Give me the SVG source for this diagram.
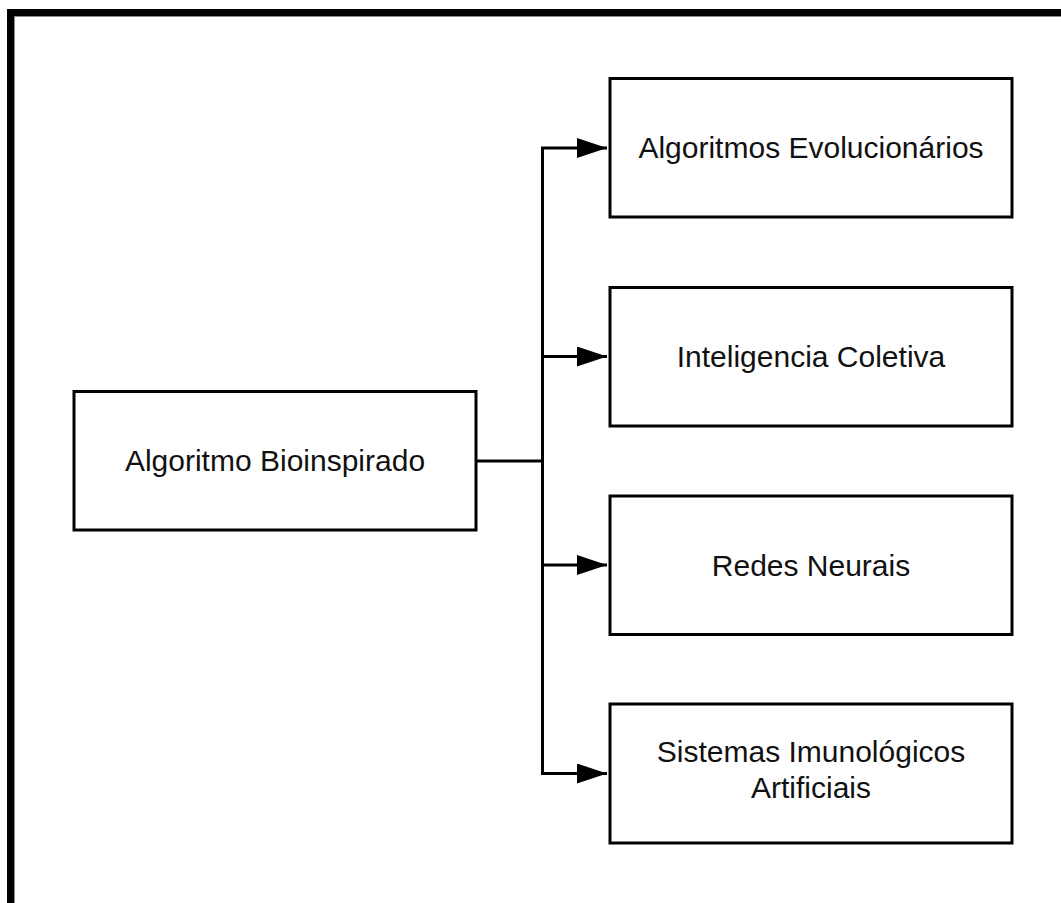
<svg xmlns="http://www.w3.org/2000/svg" width="1061" height="903" viewBox="0 0 1061 903">
<style>
.box{fill:#fff;stroke:#000;stroke-width:3}
.lbl{font-family:"Liberation Sans",Arial,sans-serif;font-size:30px;fill:#111;text-anchor:middle}
.conn{fill:none;stroke:#000;stroke-width:3}
</style>
<defs>
<marker id="arr" markerUnits="userSpaceOnUse" markerWidth="31" markerHeight="21" refX="30" refY="10" orient="auto">
<path d="M0,0 L30,10 L0,20 z" fill="#000"/>
</marker>
</defs>
<rect width="1061" height="903" fill="#fff"/>
<g id="frame">
<rect x="7" y="9" width="1054" height="7" fill="#000"/>
<rect x="7" y="9" width="7" height="894" fill="#000"/>
<line x1="14.5" y1="16" x2="14.5" y2="903" stroke="#888" stroke-width="1"/>
<line x1="14" y1="16.5" x2="1061" y2="16.5" stroke="#888" stroke-width="1"/>
</g>
<g id="connectors">
<path class="conn" d="M476,461 H542.5"/>
<path class="conn" d="M542.5,148 V773.5"/>
<path class="conn" d="M541,148 H607" marker-end="url(#arr)"/>
<path class="conn" d="M542.5,356.5 H607" marker-end="url(#arr)"/>
<path class="conn" d="M542.5,565 H607" marker-end="url(#arr)"/>
<path class="conn" d="M541,773.5 H607" marker-end="url(#arr)"/>
</g>
<g id="n0">
<rect class="box" x="74" y="391.5" width="402" height="138.5"/>
<text class="lbl" x="275" y="471">Algoritmo Bioinspirado</text>
</g>
<g id="n1">
<rect class="box" x="610" y="78.5" width="402" height="138.5"/>
<text class="lbl" x="811" y="158">Algoritmos Evolucionários</text>
</g>
<g id="n2">
<rect class="box" x="610" y="287.5" width="402" height="138.5"/>
<text class="lbl" x="811" y="367">Inteligencia Coletiva</text>
</g>
<g id="n3">
<rect class="box" x="610" y="496" width="402" height="138.5"/>
<text class="lbl" x="811" y="575.5">Redes Neurais</text>
</g>
<g id="n4">
<rect class="box" x="610" y="704" width="402" height="139"/>
<text class="lbl" x="811" y="762">Sistemas Imunológicos</text>
<text class="lbl" x="811" y="798">Artificiais</text>
</g>
</svg>
